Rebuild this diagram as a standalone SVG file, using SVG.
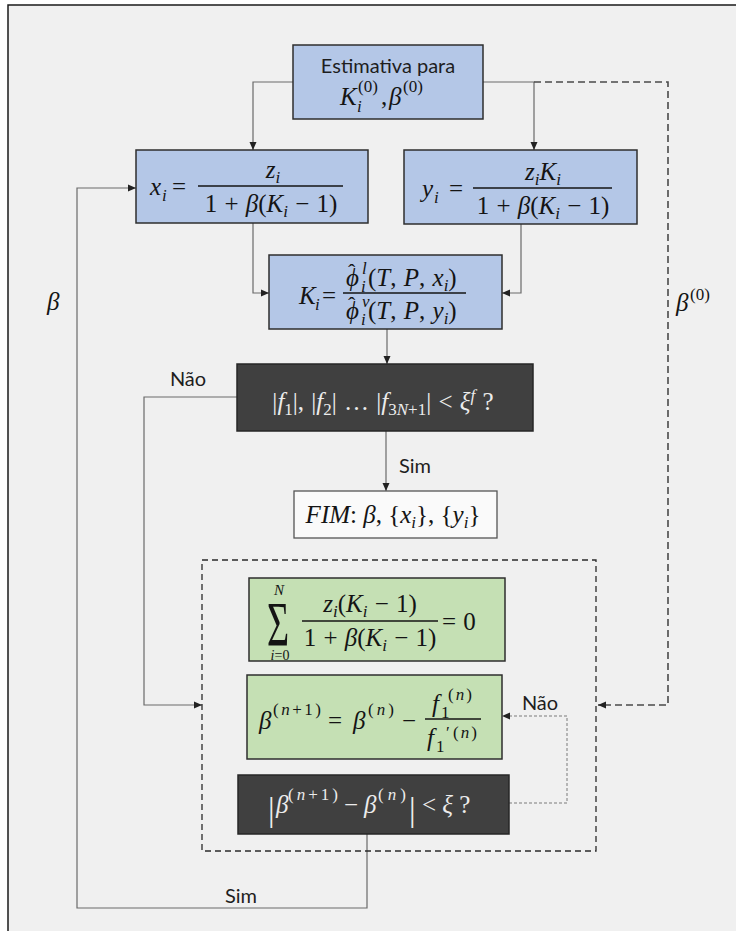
<svg xmlns="http://www.w3.org/2000/svg" width="736" height="931" viewBox="0 0 736 931">
<defs>
<marker id="ar" markerUnits="userSpaceOnUse" markerWidth="8" markerHeight="8" refX="8" refY="4" orient="auto"><path d="M0,0.5 L8,4 L0,7.5 z" fill="#222"/></marker>
<style>
.m{font-family:"Liberation Serif","DejaVu Serif",serif;font-size:25px;fill:#141414;word-spacing:1px}
.i{font-style:italic}
.sb{font-size:17px}
.w{fill:#ececec}
.lab{font-family:Lato,"Open Sans",sans-serif;font-size:20px;fill:#1e1e1e}
.blue{fill:#b4c7e7;stroke:#2e2e2e;stroke-width:1.5}
.green{fill:#c5e0b4;stroke:#2e2e2e;stroke-width:1.5}
.dark{fill:#404040;stroke:#262626;stroke-width:1.5}
.bar{stroke:#141414;stroke-width:1.4}
.cn{fill:none;stroke:#6a6a6a;stroke-width:1.2}
.dsh{fill:none;stroke:#4a4a4a;stroke-width:1.6;stroke-dasharray:7,4}
.dot{fill:none;stroke:#7a7a7a;stroke-width:1;stroke-dasharray:3,2}
</style>
</defs>
<rect x="0" y="0" width="736" height="931" fill="#ffffff"/>
<rect x="8" y="5" width="740" height="940" fill="#f0f0f0" stroke="#1a1a1a" stroke-width="1.5"/>

<g id="connectors">
<path class="cn" d="M293,82 H253 V150" marker-end="url(#ar)"/>
<path class="cn" d="M483,82 H534 V150" marker-end="url(#ar)"/>
<path class="dsh" d="M534,82 H668 V705 H598" marker-end="url(#ar)"/>
<path class="cn" d="M253,223 V293 H269" marker-end="url(#ar)"/>
<path class="cn" d="M521,224 V293 H502" marker-end="url(#ar)"/>
<path class="cn" d="M387,329 V364" marker-end="url(#ar)"/>
<path class="cn" d="M237,397 H144 V705 H202" marker-end="url(#ar)"/>
<path class="cn" d="M386,431 V491" marker-end="url(#ar)"/>
<path class="dot" d="M509,803 H567 V716 H502" marker-end="url(#ar)"/>
<path class="cn" d="M367,834 V908 H77 V188 H136" marker-end="url(#ar)"/>
<text class="lab" x="188" y="386" text-anchor="middle">Não</text>
<text class="lab" x="415" y="473" text-anchor="middle">Sim</text>
<text class="lab" x="540" y="710" text-anchor="middle">Não</text>
<text class="lab" x="241" y="903" text-anchor="middle">Sim</text>
<text class="m i" x="47" y="310">β</text>
<text class="m i" x="676" y="311">β</text>
<text class="m sb" x="690" y="300">(0)</text>
</g>

<g id="group-box">
<rect x="202" y="560" width="394" height="291" fill="none" stroke="#2a2a2a" stroke-width="1.3" stroke-dasharray="6,4"/>
</g>

<g id="n-start">
<rect class="blue" x="293" y="45" width="190" height="74"/>
<text class="lab" x="388" y="73" text-anchor="middle">Estimativa para</text>
<text class="m i" x="340" y="105">K</text>
<text class="m i sb" x="357" y="112">i</text>
<text class="m sb" x="358" y="92">(0)</text>
<text class="m" x="381" y="105">,</text>
<text class="m i" x="389" y="105">β</text>
<text class="m sb" x="403" y="92">(0)</text>
</g>

<g id="n-x">
<rect class="blue" x="136" y="150" width="232" height="73"/>
<text class="m i" x="150" y="195">x</text>
<text class="m i sb" x="162" y="201">i</text>
<text class="m" x="172" y="195">=</text>
<line class="bar" x1="198" y1="186" x2="343" y2="186"/>
<text class="m" x="273" y="178" text-anchor="middle"><tspan class="i">z</tspan><tspan class="i sb" dy="5">i</tspan></text>
<text class="m" x="271" y="212" text-anchor="middle">1 + <tspan class="i">β</tspan>(<tspan class="i">K</tspan><tspan class="i sb" dy="5">i</tspan><tspan dy="-5"> − 1)</tspan></text>
</g>

<g id="n-y">
<rect class="blue" x="404" y="150" width="233" height="74"/>
<text class="m i" x="422" y="197">y</text>
<text class="m i sb" x="434" y="203">i</text>
<text class="m" x="449" y="197">=</text>
<line class="bar" x1="473" y1="188" x2="612" y2="188"/>
<text class="m" x="543" y="180" text-anchor="middle"><tspan class="i">z</tspan><tspan class="i sb" dy="5">i</tspan><tspan class="i" dy="-5">K</tspan><tspan class="i sb" dy="5">i</tspan></text>
<text class="m" x="543" y="214" text-anchor="middle">1 + <tspan class="i">β</tspan>(<tspan class="i">K</tspan><tspan class="i sb" dy="5">i</tspan><tspan dy="-5"> − 1)</tspan></text>
</g>

<g id="n-k">
<rect class="blue" x="269" y="255" width="233" height="74"/>
<text class="m i" x="299" y="304">K</text>
<text class="m i sb" x="315" y="310">i</text>
<text class="m" x="322" y="304">=</text>
<line class="bar" x1="343" y1="293" x2="466" y2="293"/>
<text class="m i" x="346" y="286">ϕ</text>
<text class="m" x="348" y="279" style="font-size:22px">ˆ</text>
<text class="m i sb" x="362" y="274">l</text>
<text class="m i sb" x="361" y="292">i</text>
<text class="m" x="368" y="286">(<tspan class="i">T</tspan>, <tspan class="i">P</tspan>, <tspan class="i">x</tspan><tspan class="i sb" dy="5">i</tspan><tspan dy="-5">)</tspan></text>
<text class="m i" x="346" y="319">ϕ</text>
<text class="m" x="348" y="312" style="font-size:22px">ˆ</text>
<text class="m i sb" x="362" y="307">v</text>
<text class="m i sb" x="361" y="325">i</text>
<text class="m" x="368" y="319">(<tspan class="i">T</tspan>, <tspan class="i">P</tspan>, <tspan class="i">y</tspan><tspan class="i sb" dy="5">i</tspan><tspan dy="-5">)</tspan></text>
</g>

<g id="n-test1">
<rect class="dark" x="237" y="364" width="296" height="67"/>
<text class="m w" x="383" y="410" text-anchor="middle">|<tspan class="i">f</tspan><tspan class="sb" dy="5">1</tspan><tspan dy="-5">|, |</tspan><tspan class="i">f</tspan><tspan class="sb" dy="5">2</tspan><tspan dy="-5">| … |</tspan><tspan class="i">f</tspan><tspan class="sb" dy="5">3<tspan class="i">N</tspan>+1</tspan><tspan dy="-5">| &lt; </tspan><tspan class="i">ξ</tspan><tspan class="i sb" dy="-9">f</tspan><tspan dy="9"> ?</tspan></text>
</g>

<g id="n-fim">
<rect x="294" y="491" width="203" height="47" fill="#fafafa" stroke="#555" stroke-width="1.3"/>
<text class="m" x="393" y="523" text-anchor="middle" style="word-spacing:0"><tspan class="i">FIM</tspan>: <tspan class="i">β</tspan>, {<tspan class="i">x</tspan><tspan class="i sb" dy="5">i</tspan><tspan dy="-5">}, {</tspan><tspan class="i">y</tspan><tspan class="i sb" dy="5">i</tspan><tspan dy="-5">}</tspan></text>
</g>

<g id="n-sum">
<rect class="green" x="249" y="578" width="256" height="83"/>
<text class="m" transform="translate(267,646) scale(1,1.65)" style="font-size:38px">Σ</text>
<text class="m i sb" x="279" y="595" text-anchor="middle" style="font-size:15px">N</text>
<text class="m sb" x="280" y="660" text-anchor="middle" style="font-size:14px"><tspan class="i">i</tspan>=0</text>
<line class="bar" x1="302" y1="621" x2="438" y2="621"/>
<text class="m" x="370" y="612" text-anchor="middle"><tspan class="i">z</tspan><tspan class="i sb" dy="5">i</tspan><tspan dy="-5">(</tspan><tspan class="i">K</tspan><tspan class="i sb" dy="5">i</tspan><tspan dy="-5"> − 1)</tspan></text>
<text class="m" x="370" y="646" text-anchor="middle">1 + <tspan class="i">β</tspan>(<tspan class="i">K</tspan><tspan class="i sb" dy="5">i</tspan><tspan dy="-5"> − 1)</tspan></text>
<text class="m" x="442" y="630">= 0</text>
</g>

<g id="n-newton">
<rect class="green" x="247" y="675" width="255" height="84"/>
<text class="m i" x="259" y="729">β</text>
<text class="m sb" x="273" y="715" textLength="48" lengthAdjust="spacing">(<tspan class="i">n</tspan>+1)</text>
<text class="m" x="328" y="729">=</text>
<text class="m i" x="353" y="729">β</text>
<text class="m sb" x="368" y="715" textLength="26" lengthAdjust="spacing">(<tspan class="i">n</tspan>)</text>
<text class="m" x="402" y="729">−</text>
<line class="bar" x1="425" y1="719" x2="481" y2="719"/>
<text class="m i" x="432" y="712">f</text>
<text class="m sb" x="441" y="718">1</text>
<text class="m sb" x="448" y="700" textLength="24" lengthAdjust="spacing">(<tspan class="i">n</tspan>)</text>
<text class="m i" x="427" y="746">f</text>
<text class="m sb" x="436" y="752">1</text>
<text class="m sb" x="446" y="738">′</text>
<text class="m sb" x="453" y="738" textLength="24" lengthAdjust="spacing">(<tspan class="i">n</tspan>)</text>
</g>

<g id="n-test2">
<rect class="dark" x="238" y="775" width="271" height="59"/>
<text class="m w" x="268" y="821" style="font-size:33px">|</text>
<text class="m w i" x="276" y="813">β</text>
<text class="m w sb" x="288" y="800" textLength="50" lengthAdjust="spacing">(<tspan class="i">n</tspan>+1)</text>
<text class="m w" x="344" y="813">−</text>
<text class="m w i" x="364" y="813">β</text>
<text class="m w sb" x="378" y="800" textLength="28" lengthAdjust="spacing">(<tspan class="i">n</tspan>)</text>
<text class="m w" x="409" y="821" style="font-size:33px">|</text>
<text class="m w" x="422" y="813" style="word-spacing:0">&lt; <tspan class="i">ξ</tspan> ?</text>
</g>
</svg>
